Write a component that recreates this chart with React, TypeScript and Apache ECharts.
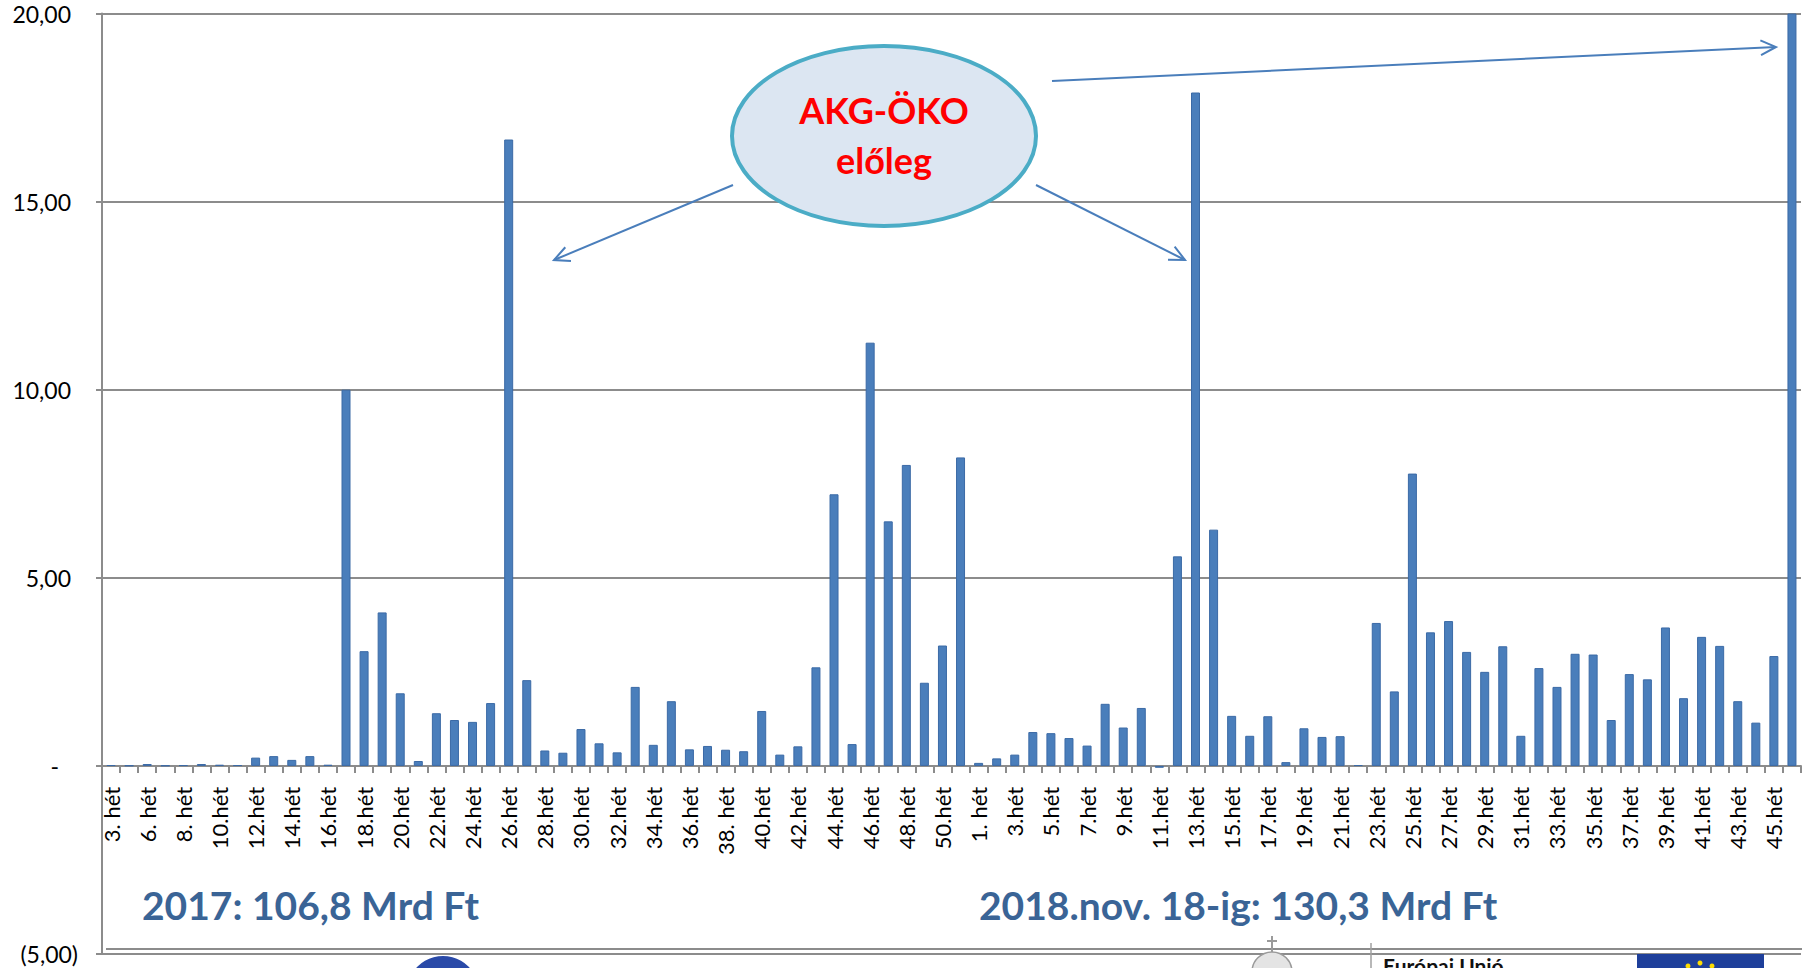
import React, { useEffect, useRef } from "react";
import * as echarts from "echarts";

// ---- Data ----
const weeks2017: string[] = [
  "3. hét", "4. hét", "6. hét", "7. hét", "8. hét", "9. hét", "10.hét", "11.hét", "12.hét", "13.hét",
  "14.hét", "15.hét", "16.hét", "17.hét", "18.hét", "19.hét", "20.hét", "21.hét", "22.hét", "23.hét",
  "24.hét", "25.hét", "26.hét", "27.hét", "28.hét", "29.hét", "30.hét", "31.hét", "32.hét", "33.hét",
  "34.hét", "35.hét", "36.hét", "37.hét", "38. hét", "39.hét", "40.hét", "41.hét", "42.hét", "43.hét",
  "44.hét", "45.hét", "46.hét", "47.hét", "48.hét", "49.hét", "50.hét", "51.hét",
];
const weeks2018: string[] = [
  "1. hét", "2.hét", "3.hét", "4.hét", "5.hét", "6.hét", "7.hét", "8.hét", "9.hét", "10.hét",
  "11.hét", "12.hét", "13.hét", "14.hét", "15.hét", "16.hét", "17.hét", "18.hét", "19.hét", "20.hét",
  "21.hét", "22.hét", "23.hét", "24.hét", "25.hét", "26.hét", "27.hét", "28.hét", "29.hét", "30.hét",
  "31.hét", "32.hét", "33.hét", "34.hét", "35.hét", "36.hét", "37.hét", "38.hét", "39.hét", "40.hét",
  "41.hét", "42.hét", "43.hét", "44.hét", "45.hét", "46.hét",
];
const values2017: number[] = [
  0.02, 0.01, 0.05, 0.01, 0.02, 0.05, 0.03, 0.02, 0.22, 0.26,
  0.16, 0.26, 0.03, 10.0, 3.05, 4.08, 1.93, 0.13, 1.4, 1.22,
  1.17, 1.67, 16.65, 2.28, 0.41, 0.35, 0.98, 0.6, 0.36, 2.1,
  0.56, 1.72, 0.44, 0.53, 0.43, 0.39, 1.46, 0.3, 0.52, 2.62,
  7.22, 0.58, 11.25, 6.5, 8.0, 2.21, 3.2, 8.2,
];
const values2018: number[] = [
  0.08, 0.2, 0.3, 0.9, 0.87, 0.74, 0.54, 1.65, 1.02, 1.54,
  -0.05, 5.57, 17.9, 6.28, 1.33, 0.8, 1.32, 0.1, 1.0, 0.77,
  0.79, 0.02, 3.8, 1.98, 7.77, 3.55, 3.85, 3.03, 2.5, 3.18,
  0.8, 2.6, 2.1, 2.98, 2.96, 1.22, 2.44, 2.3, 3.68, 1.8,
  3.43, 3.19, 1.72, 1.15, 2.92, 20.0,
];
const yMin = -5;
const yMax = 20;
const yStep = 5;
const totalLabels: string[] = ["2017: 106,8 Mrd Ft", "2018.nov. 18-ig: 130,3 Mrd Ft"];
const calloutLines: string[] = ["AKG-ÖKO", "előleg"];
const footerText = "Európai Unió";

const FONT = "Lato, 'Open Sans', sans-serif";
const BAR = "#4a7ebb";
const GRID_GREY = "#8c8c8c";
const ARROW = "#4a7ebb";

const GRID_TOP = 13.5;
const GRID_BOTTOM_Y = 954;
const CHART_H = 968;

function fmtY(v: number): string {
  if (v === 0) return "{z|-}";
  const s = Math.abs(v).toFixed(2).replace(".", ",");
  return v < 0 ? `{n|(${s})}` : `{p|${s}}`;
}

function arrow(x1: number, y1: number, x2: number, y2: number): any[] {
  const a = Math.atan2(y2 - y1, x2 - x1);
  const L = 17;
  const t = Math.PI / 7;
  return [
    { type: "line", z: 100, shape: { x1, y1, x2, y2 }, style: { stroke: ARROW, lineWidth: 2 } },
    {
      type: "polyline",
      z: 100,
      shape: {
        points: [
          [x2 - L * Math.cos(a - t), y2 - L * Math.sin(a - t)],
          [x2, y2],
          [x2 - L * Math.cos(a + t), y2 - L * Math.sin(a + t)],
        ],
      },
      style: { stroke: ARROW, lineWidth: 2, fill: null },
    },
  ];
}

export default function App() {
  const ref = useRef<HTMLDivElement>(null);
  useEffect(() => {
    if (!ref.current) return;
    const chart = echarts.init(ref.current, undefined, { renderer: "svg" });
    const categories = [...weeks2017, ...weeks2018];
    const values = [...values2017, ...values2018];
    const gridHeight = GRID_BOTTOM_Y - GRID_TOP;
    // move the category axis (line, ticks, labels) up to the zero value
    const zeroOffset = -gridHeight * (0 - yMin) / (yMax - yMin);
    const labelRich = {
      p: { fontSize: 23, fontFamily: FONT, color: "#000", padding: [0, 7, 0, 0] },
      z: { fontSize: 23, fontFamily: FONT, color: "#000", padding: [0, 19, 0, 0] },
      n: { fontSize: 23, fontFamily: FONT, color: "#000", padding: [0, 0, 0, 0] },
    };
    const textStyle = (text: string, size: number, fill: string, align: string, vAlign: string) => ({
      text,
      fontSize: size,
      fontWeight: "bold",
      fontFamily: FONT,
      fill,
      align,
      verticalAlign: vAlign,
    });
    const graphics: any[] = [
      // callout
      {
        type: "ellipse",
        z: 100,
        shape: { cx: 884, cy: 136, rx: 152, ry: 90 },
        style: { fill: "#dce6f2", stroke: "#4bacc6", lineWidth: 4 },
      },
      { type: "text", z: 101, x: 884, y: 110, style: textStyle(calloutLines[0], 36, "#ff0000", "center", "middle") },
      { type: "text", z: 101, x: 884, y: 160, style: textStyle(calloutLines[1], 36, "#ff0000", "center", "middle") },
      ...arrow(733, 185, 554, 260),
      ...arrow(1036, 185, 1185, 260),
      ...arrow(1052, 81, 1776, 47),
      // totals
      { type: "text", z: 100, x: 142, y: 905, style: textStyle(totalLabels[0], 39, "#3a6496", "left", "middle") },
      { type: "text", z: 100, x: 979, y: 905, style: textStyle(totalLabels[1], 39, "#3a6496", "left", "middle") },
      // floor double line
      {
        type: "line",
        z: 1,
        shape: { x1: 106, y1: 949, x2: 1802, y2: 949 },
        style: { stroke: GRID_GREY, lineWidth: 2 },
      },
      // footer logos (partial)
      { type: "circle", z: 1, shape: { cx: 443, cy: 992, r: 36 }, style: { fill: "#2a4aa8" } },
      {
        type: "sector",
        z: 1,
        shape: { cx: 1272, cy: 972, r0: 0, r: 20, startAngle: Math.PI, endAngle: Math.PI * 2 },
        style: { fill: "#e4e4e4", stroke: "#9a9a9a", lineWidth: 1.5 },
      },
      { type: "line", z: 1, shape: { x1: 1272, y1: 936, x2: 1272, y2: 952 }, style: { stroke: "#9a9a9a", lineWidth: 2 } },
      { type: "line", z: 1, shape: { x1: 1267, y1: 941, x2: 1277, y2: 941 }, style: { stroke: "#9a9a9a", lineWidth: 2 } },
      { type: "line", z: 1, shape: { x1: 1371, y1: 943, x2: 1371, y2: 968 }, style: { stroke: "#a0a0a0", lineWidth: 1.5 } },
      { type: "text", z: 1, x: 1383, y: 955, style: textStyle(footerText, 21, "#111", "left", "top") },
      { type: "rect", z: 1, shape: { x: 1637, y: 954, width: 127, height: 20 }, style: { fill: "#1e3f9a" } },
      { type: "circle", z: 2, shape: { cx: 1688, cy: 966, r: 2.5 }, style: { fill: "#ffdd00" } },
      { type: "circle", z: 2, shape: { cx: 1700, cy: 963, r: 2.5 }, style: { fill: "#ffdd00" } },
      { type: "circle", z: 2, shape: { cx: 1712, cy: 966, r: 2.5 }, style: { fill: "#ffdd00" } },
    ];

    chart.setOption({
      animation: false,
      backgroundColor: "#ffffff",
      grid: {
        left: 102,
        right: 1,
        top: GRID_TOP,
        bottom: CHART_H - GRID_BOTTOM_Y,
        containLabel: false,
        outerBoundsMode: "none",
      },
      xAxis: {
        type: "category",
        data: categories,
        boundaryGap: true,
        position: "bottom",
        offset: zeroOffset,
        axisLine: { show: true, onZero: false, lineStyle: { color: GRID_GREY, width: 2 } },
        axisTick: { show: true, interval: 0, length: 7, lineStyle: { color: GRID_GREY, width: 2 } },
        axisLabel: {
          interval: 1,
          rotate: 90,
          margin: 21,
          fontSize: 22,
          fontFamily: FONT,
          color: "#000",
        },
        splitLine: { show: false },
      },
      yAxis: {
        type: "value",
        min: yMin,
        max: yMax,
        interval: yStep,
        axisLine: { show: true, lineStyle: { color: GRID_GREY, width: 2 } },
        axisTick: { show: true, length: 6, lineStyle: { color: GRID_GREY, width: 2 } },
        axisLabel: {
          margin: 24,
          fontSize: 23,
          fontFamily: FONT,
          color: "#000",
          formatter: fmtY,
          rich: labelRich,
        },
        splitLine: { show: true, lineStyle: { color: GRID_GREY, width: 2 } },
      },
      series: [
        {
          type: "bar",
          data: values,
          barWidth: 9,
          itemStyle: { color: BAR, borderColor: "#3b6aa6", borderWidth: 1 },
        },
      ],
      graphic: graphics,
    });
    return () => chart.dispose();
  }, []);
  return (
    <div
      ref={ref}
      style={{ position: "absolute", left: 0, top: 0, width: 1802, height: CHART_H, background: "#fff" }}
    />
  );
}
